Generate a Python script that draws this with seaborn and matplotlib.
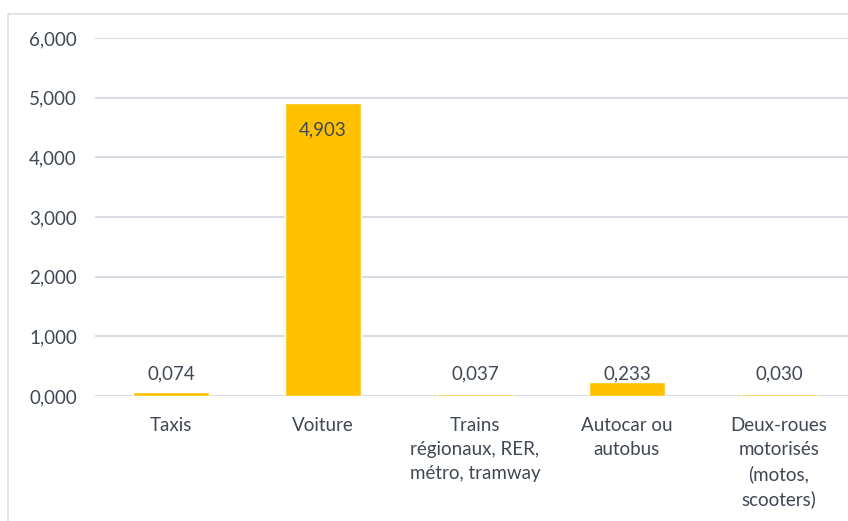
import matplotlib
matplotlib.use("Agg")
import matplotlib.pyplot as plt
from matplotlib.patches import Rectangle
import seaborn as sns
import pandas as pd

categories = [
    "Taxis",
    "Voiture",
    "Trains\nrégionaux, RER,\nmétro, tramway",
    "Autocar ou\nautobus",
    "Deux-roues\nmotorisés\n(motos,\nscooters)",
]
values = [0.074, 4.903, 0.037, 0.233, 0.030]
y_ticks = [0, 1, 2, 3, 4, 5, 6]

BAR = "#FFC000"
TEXT = "#404854"
GRID = "#d9dde3"
FS = 13.5

sns.set_theme(style="white")
plt.rcParams["font.family"] = ["Lato", "DejaVu Sans"]

df = pd.DataFrame({"mode": categories, "valeur": values})

fig = plt.figure(figsize=(8.48, 5.21), dpi=100)
fig.patch.set_facecolor("white")

# outer chart frame
fig.patches.append(Rectangle((8 / 848, -0.05), 1.0, 1 - 14 / 521 + 0.05,
                             transform=fig.transFigure, fill=False,
                             edgecolor=GRID, linewidth=1.2))

ax = fig.add_axes([95 / 848, 1 - 396 / 521, 760 / 848, 358 / 521])
sns.barplot(data=df, x="mode", y="valeur", color=BAR, width=0.5,
            saturation=1, ax=ax)

ax.set_xlim(-0.5, len(categories) - 0.5)
ax.set_ylim(0, 6)
ax.set_yticks(y_ticks)
ax.set_yticklabels([f"{v:.3f}".replace(".", ",") for v in y_ticks],
                   fontsize=FS, color=TEXT)
ax.tick_params(axis="y", length=0, pad=13)
ax.tick_params(axis="x", length=0, pad=15, labelsize=FS, labelcolor=TEXT)
ax.set_xlabel("")
ax.set_ylabel("")
ax.grid(axis="y", color=GRID, linewidth=1.5)
ax.set_axisbelow(True)
for s in ax.spines.values():
    s.set_visible(False)
for lbl in ax.get_xticklabels():
    lbl.set_linespacing(1.5)

# value labels: inside the tall bar, on a common baseline above the short ones
for i, v in enumerate(values):
    txt = f"{v:.3f}".replace(".", ",")
    if v > 3:
        ax.annotate(txt, (i, v), xytext=(0, -19), textcoords="offset points",
                    ha="center", va="center", fontsize=FS, color=TEXT)
    else:
        ax.annotate(txt, (i, 0), xytext=(0, 10), textcoords="offset points",
                    ha="center", va="bottom", fontsize=FS, color=TEXT)

fig.savefig("out.png", dpi=100)
